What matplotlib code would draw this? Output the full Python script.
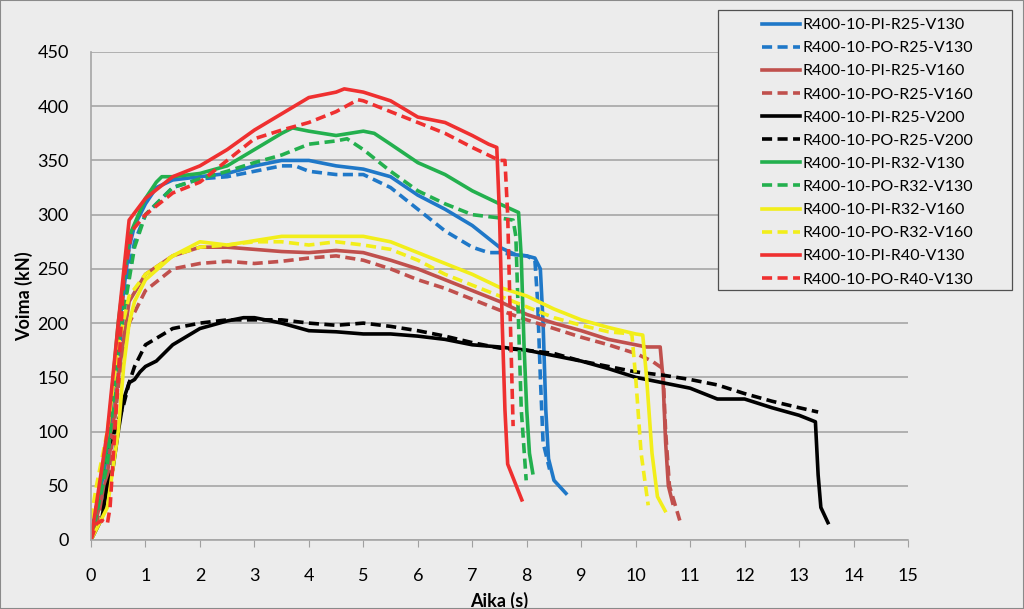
import matplotlib.pyplot as plt

# series data: time (s) and force (kN)
pi_r25_v130_t = [0, 0.3, 0.5, 0.7, 0.8, 1.0, 1.2, 1.5, 2.0, 2.5, 3.0, 3.5, 4.0, 4.5, 5.0, 5.5, 6.0, 6.5, 7.0, 7.5, 7.8, 8.0, 8.15, 8.25, 8.3, 8.35, 8.4, 8.5, 8.72]
pi_r25_v130_f = [0, 80, 190, 270, 290, 310, 325, 332, 335, 338, 345, 350, 350, 345, 342, 335, 318, 305, 290, 270, 263, 262, 260, 250, 200, 120, 75, 55, 43]
po_r25_v130_t = [0, 0.3, 0.5, 0.7, 0.8, 1.0, 1.5, 2.0, 2.5, 3.0, 3.5, 3.75, 4.0, 4.5, 5.0, 5.5, 6.0, 6.5, 7.0, 7.3, 7.5, 7.8, 8.0, 8.15, 8.2, 8.25, 8.3, 8.42]
po_r25_v130_f = [0, 60, 170, 250, 275, 300, 325, 333, 335, 340, 345, 345, 340, 337, 337, 325, 305, 285, 270, 265, 265, 263, 262, 258, 220, 150, 90, 65]

pi_r25_v160_t = [0, 0.3, 0.5, 0.7, 1.0, 1.5, 2.0, 2.5, 3.0, 3.5, 4.0, 4.5, 5.0, 5.5, 6.0, 6.5, 7.0, 7.5, 8.0, 8.5, 9.0, 9.5, 10.0, 10.2, 10.45, 10.5, 10.55, 10.6, 10.68]
pi_r25_v160_f = [0, 60, 150, 220, 245, 262, 270, 270, 268, 266, 265, 267, 265, 258, 250, 240, 230, 220, 208, 200, 193, 185, 180, 178, 178, 150, 90, 50, 34]
po_r25_v160_t = [0, 0.3, 0.5, 0.7, 1.0, 1.5, 2.0, 2.5, 3.0, 3.5, 4.0, 4.5, 5.0, 5.5, 6.0, 6.5, 7.0, 7.5, 8.0, 8.5, 9.0, 9.5, 10.0, 10.3, 10.5, 10.55, 10.62, 10.81]
po_r25_v160_f = [0, 50, 140, 200, 230, 250, 255, 257, 255, 257, 260, 262, 258, 250, 240, 232, 222, 212, 203, 195, 187, 180, 172, 165, 158, 100, 50, 18]

pi_r25_v200_t = [0, 0.2, 0.3, 0.4, 0.5, 0.6, 0.7, 0.8, 0.9, 1.0, 1.2, 1.5, 2.0, 2.5, 2.8, 3.0, 3.5, 4.0, 4.5, 5.0, 5.5, 6.0, 6.5, 7.0, 7.5, 8.0, 8.5, 9.0, 9.5, 10.0, 10.5, 11.0, 11.5, 12.0, 12.5, 13.0, 13.3, 13.35, 13.4, 13.53]
pi_r25_v200_f = [0, 20, 50, 65, 100, 130, 145, 148, 155, 160, 165, 180, 195, 202, 205, 205, 200, 193, 192, 190, 190, 188, 185, 180, 178, 175, 170, 165, 158, 150, 145, 140, 130, 130, 122, 115, 109, 60, 30, 16]
po_r25_v200_t = [0, 0.1, 0.2, 0.3, 0.4, 0.5, 0.6, 0.7, 0.8, 1.0, 1.5, 2.0, 2.5, 3.0, 3.5, 4.0, 4.5, 5.0, 5.5, 6.0, 6.5, 7.0, 7.5, 8.0, 8.5, 9.0, 9.5, 10.0, 10.5, 11.0, 11.5, 12.0, 12.5, 13.0, 13.35]
po_r25_v200_f = [0, 30, 60, 85, 95, 110, 125, 145, 160, 180, 195, 200, 203, 203, 203, 200, 198, 200, 197, 193, 188, 182, 177, 175, 172, 165, 160, 155, 152, 148, 143, 135, 128, 122, 118]

pi_r32_v130_t = [0, 0.3, 0.5, 0.7, 1.0, 1.2, 1.3, 1.5, 2.0, 2.5, 3.0, 3.5, 3.7, 4.0, 4.5, 5.0, 5.2, 5.5, 6.0, 6.5, 7.0, 7.5, 7.85, 7.9, 7.95, 8.0, 8.05, 8.11]
pi_r32_v130_f = [0, 90, 200, 280, 315, 330, 335, 335, 338, 345, 360, 375, 380, 377, 373, 377, 375, 365, 348, 337, 322, 310, 302, 260, 180, 120, 80, 62]
po_r32_v130_t = [0, 0.3, 0.5, 0.8, 1.0, 1.5, 2.0, 2.5, 3.0, 3.5, 4.0, 4.5, 4.7, 5.0, 5.5, 6.0, 6.5, 7.0, 7.5, 7.75, 7.8, 7.85, 7.9, 7.99]
po_r32_v130_f = [0, 70, 180, 270, 300, 325, 333, 340, 348, 355, 365, 368, 370, 360, 340, 322, 310, 300, 297, 295, 280, 200, 120, 55]

pi_r32_v160_t = [0, 0.3, 0.5, 0.6, 0.7, 0.8, 1.0, 1.5, 2.0, 2.5, 3.0, 3.5, 4.0, 4.5, 5.0, 5.5, 6.0, 6.5, 7.0, 7.5, 8.0, 8.5, 9.0, 9.5, 10.0, 10.13, 10.2, 10.3, 10.4, 10.54]
pi_r32_v160_f = [0, 30, 100, 160, 200, 220, 240, 262, 275, 272, 276, 280, 280, 280, 280, 275, 265, 255, 245, 233, 225, 213, 203, 196, 190, 189, 150, 80, 40, 27]
po_r32_v160_t = [0, 0.1, 0.3, 0.5, 0.7, 1.0, 1.5, 2.0, 2.5, 3.0, 3.5, 4.0, 4.5, 5.0, 5.5, 6.0, 6.5, 7.0, 7.5, 8.0, 8.5, 9.0, 9.5, 9.93, 10.0, 10.1, 10.23]
po_r32_v160_f = [20, 50, 100, 180, 225, 245, 262, 270, 272, 275, 275, 272, 275, 272, 268, 258, 245, 235, 225, 215, 205, 198, 192, 190, 150, 80, 32]

pi_r40_v130_t = [0, 0.3, 0.5, 0.7, 1.0, 1.5, 2.0, 2.5, 3.0, 3.5, 4.0, 4.5, 4.65, 5.0, 5.5, 6.0, 6.5, 7.0, 7.3, 7.45, 7.5, 7.55, 7.6, 7.65, 7.91]
pi_r40_v130_f = [0, 100, 200, 295, 315, 335, 345, 360, 378, 393, 408, 413, 416, 413, 405, 390, 385, 373, 365, 362, 300, 200, 120, 70, 37]
po_r40_v130_t = [0, 0.1, 0.2, 0.3, 0.35, 0.5, 0.6, 0.75, 1.0, 1.5, 2.0, 2.5, 3.0, 3.5, 4.0, 4.5, 4.9, 5.0, 5.5, 6.0, 6.5, 7.0, 7.5, 7.6, 7.65, 7.7, 7.75]
po_r40_v130_f = [0, 15, 18, 15, 30, 150, 240, 285, 300, 320, 330, 350, 370, 378, 385, 395, 406, 405, 395, 385, 375, 362, 350, 350, 300, 200, 105]

labels = ['R400-10-PI-R25-V130', 'R400-10-PO-R25-V130', 'R400-10-PI-R25-V160', 'R400-10-PO-R25-V160',
          'R400-10-PI-R25-V200', 'R400-10-PO-R25-V200', 'R400-10-PI-R32-V130', 'R400-10-PO-R32-V130',
          'R400-10-PI-R32-V160', 'R400-10-PO-R32-V160', 'R400-10-PI-R40-V130', 'R400-10-PO-R40-V130']
x_ticks = list(range(0, 16))
y_ticks = list(range(0, 451, 50))

series = [(pi_r25_v130_t, pi_r25_v130_f), (po_r25_v130_t, po_r25_v130_f),
          (pi_r25_v160_t, pi_r25_v160_f), (po_r25_v160_t, po_r25_v160_f),
          (pi_r25_v200_t, pi_r25_v200_f), (po_r25_v200_t, po_r25_v200_f),
          (pi_r32_v130_t, pi_r32_v130_f), (po_r32_v130_t, po_r32_v130_f),
          (pi_r32_v160_t, pi_r32_v160_f), (po_r32_v160_t, po_r32_v160_f),
          (pi_r40_v130_t, pi_r40_v130_f), (po_r40_v130_t, po_r40_v130_f)]
colors = ['#1f78c8', '#1f78c8', '#c0504d', '#c0504d', '#000000', '#000000',
          '#23b04e', '#23b04e', '#f2ee1a', '#f2ee1a', '#ef3030', '#ef3030']

bg = '#ececec'
plt.rcParams['font.family'] = ['Lato', 'DejaVu Sans']

fig = plt.figure(figsize=(10.24, 6.09), dpi=100, facecolor=bg)
ax = fig.add_axes([91 / 1024, 1 - 540 / 609, (908 - 91) / 1024, (540 - 52) / 609])
ax.set_facecolor(bg)

for i, (t, f) in enumerate(series):
    if i % 2 == 0:
        ax.plot(t, f, color=colors[i], lw=2.6, label=labels[i], solid_joinstyle='round')
    else:
        ax.plot(t, f, color=colors[i], lw=2.6, label=labels[i], linestyle=(0, (2.8, 1.5)))

ax.set_xlim(0, 15)
ax.set_ylim(0, 450)
ax.set_xticks(x_ticks)
ax.set_yticks(y_ticks)
ax.tick_params(axis='x', length=5, color='#a0a0a0', labelsize=13, pad=15)
ax.tick_params(axis='y', length=0, labelsize=13, pad=16)
ax.grid(axis='y', color='#a6a6a6', lw=1.2)
ax.set_axisbelow(True)
for side in ['top', 'right']:
    ax.spines[side].set_visible(False)
ax.spines['left'].set_color('#a6a6a6')
ax.spines['bottom'].set_color('#a6a6a6')
ax.spines['left'].set_linewidth(1.2)
ax.spines['bottom'].set_linewidth(1.2)

ax.set_xlabel('Aika (s)', fontsize=13, fontweight='bold', labelpad=6)
ax.set_ylabel('Voima (kN)', fontsize=13, fontweight='bold', labelpad=3)

# legend box is wider than its contents in the reference, so draw it on its own
ax.add_patch(plt.Rectangle((718 / 1024, 1 - 290 / 609), 294 / 1024, 280 / 609,
                           transform=fig.transFigure, facecolor=bg,
                           edgecolor='#505050', lw=0.9, clip_on=False, zorder=4))
leg = ax.legend(loc='upper left', bbox_to_anchor=(762 / 1024, 1 - 18 / 609),
                bbox_transform=fig.transFigure, fontsize=11.5, frameon=False,
                handlelength=2.4, handletextpad=0.15, labelspacing=0.56,
                borderpad=0, borderaxespad=0)
leg.set_zorder(5)

fig.patches.append(plt.Rectangle((0, 0), 1, 1, transform=fig.transFigure,
                                 fill=False, edgecolor='#8a8a8a', lw=1.5))

fig.savefig('out.png', dpi=100, facecolor=bg)
